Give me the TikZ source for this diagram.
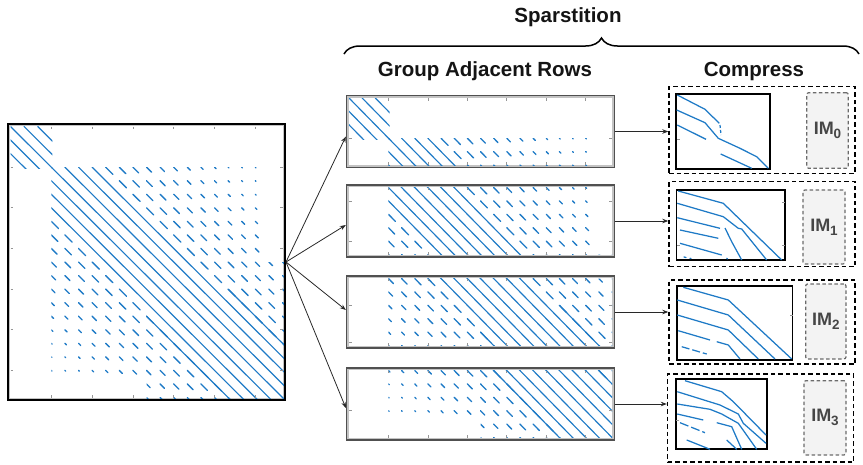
\documentclass[tikz,border=0pt]{standalone}
\usepackage{fontspec}
\setmainfont{Liberation Sans}
\usetikzlibrary{arrows.meta,decorations.pathreplacing,calc}

\definecolor{spyblue}{RGB}{30,122,198}
\definecolor{axisgray}{RGB}{195,195,195}
\definecolor{tickgray}{RGB}{150,150,150}
\definecolor{stripedge}{RGB}{80,80,80}
\definecolor{imgray}{RGB}{70,70,70}
\definecolor{imfill}{RGB}{243,243,243}
\definecolor{arrowgray}{RGB}{40,40,40}

\tikzset{
  spyline/.style={draw=spyblue, line width=1.15pt, line cap=round},
  spydot/.style={draw=spyblue, line width=1.3pt, line cap=round},
  thumbline/.style={draw=spyblue, line width=1.25pt, line join=round},
  tickmark/.style={draw=tickgray, line width=0.7pt},
  axisbox/.style={draw=axisgray, line width=1.5pt},
  bigframe/.style={draw=black, line width=2pt, inner sep=0pt},
  stripframe/.style={draw=stripedge, line width=1.3pt, inner sep=0pt,
    minimum width=268pt, minimum height=72pt},
  cbox/.style={draw=black, line width=1.4pt, dash pattern=on 4.5pt off 3pt,
    inner sep=0pt, minimum width=186pt},
  thumb/.style={draw=black, line width=1.6pt, inner sep=0pt},
  imbox/.style={draw=imgray!80, fill=imfill, line width=1.2pt, rounded corners=2pt,
    dash pattern=on 3.5pt off 2.5pt, inner sep=0pt, text=imgray,
    font=\fontsize{18}{20}\selectfont\bfseries},
  title/.style={font=\fontsize{20.5}{24}\selectfont\bfseries, text=black!92, inner sep=0pt},
  conn/.style={draw=arrowgray, line width=0.8pt, -{Stealth[length=6pt,width=4.5pt]}}
}

% subscripted memory label
\newcommand{\imlabel}[1]{IM\raisebox{-4pt}{\fontsize{13.5}{14}\selectfont #1}}

% sparsity pattern of the matrix, in a 100 x 100 grid (column, row)
\newcommand{\spypattern}{%
  \begin{scope}
    \clip (0,0) rectangle (15.4,15.4);
    \foreach \spo in {-10,-5,0,5,10}{\draw[spyline] (\spo,0) -- ++(20,20);}
  \end{scope}
  \begin{scope}
    \clip (15,15) -- (91.5,15) -- (91.5,50) -- (100.5,50) -- (100.5,100.5)
      -- (50,100.5) -- (50,92) -- (15,92) -- cycle;
    \foreach \spo in {-15,-10,-5,0,5,10,15}{\draw[spyline] (\spo+15,15) -- ++(90,90);}
    \foreach \spo in {20,25,...,85}{%
      \pgfmathsetmacro{\seglen}{max(0.25,3.7-0.052*\spo)}%
      \foreach \spr in {15,20,...,100}{%
        \draw[spydot] (\spr+\spo,\spr) -- ++(\seglen,\seglen);
        \draw[spydot] (\spr,\spr+\spo) -- ++(\seglen,\seglen);
      }}
    \begin{scope}
      \clip (50,60) rectangle (101,101);
      \foreach \spo in {-20,20}{\draw[spyline] (\spo+60,60) -- ++(45,45);}
    \end{scope}
  \end{scope}}

% one horizontal slice of 25 rows; #1,#2 inner top-left corner, #3 first row, #4 tick rows
\newcommand{\stripplot}[4]{%
  \begin{scope}[shift={(#1,#2)}, x=2.63pt, y=-2.68pt]
    \begin{scope}[shift={(0,-#3)}]
      \clip (0,#3) rectangle (100,#3+25);
      \spypattern
      \foreach \spc in {15,30,...,90}{%
        \draw[tickmark] (\spc,#3) -- ++(0,1.1);
        \draw[tickmark] (\spc,#3+25) -- ++(0,-1.1);}
      \foreach \spr in {#4}{%
        \draw[tickmark] (0,\spr) -- ++(1.1,0);
        \draw[tickmark] (100,\spr) -- ++(-1.1,0);}
    \end{scope}
  \end{scope}}

\begin{document}
\begin{tikzpicture}[x=1pt, y=-1pt]
\useasboundingbox (0,0) rectangle (863,464);

% headings and brace
\node[title] (tspar) at (568,17) {Sparstition};
\coordinate (brL) at (344,54);
\coordinate (brR) at (859,54);
\draw[line width=1.5pt, decorate, decoration={brace, amplitude=16pt}] (brL) -- (brR);
\node[title] (tgroup) at (485,71) {Group Adjacent Rows};
\node[title] (tcomp) at (754,71) {Compress};

% full matrix
\node[bigframe, minimum width=277pt, minimum height=276pt] (big) at (146.5,262) {};
\draw[axisbox] ($(big.north west)+(2.3,2.3)$) rectangle ($(big.south east)+(-2.3,-2.3)$);
\begin{scope}[shift={(10.5,126.5)}, x=2.72pt, y=-2.71pt]
  \spypattern
  \foreach \spc in {15,30,...,90}{%
    \draw[tickmark] (\spc,0) -- ++(0,1.1);
    \draw[tickmark] (\spc,100) -- ++(0,-1.1);
    \draw[tickmark] (0,\spc) -- ++(1.1,0);
    \draw[tickmark] (100,\spc) -- ++(-1.1,0);}
\end{scope}

% row groups
\node[stripframe] (s0) at (480.5,131.5) {};
\node[stripframe] (s1) at (480.5,221) {};
\node[stripframe] (s2) at (480.5,312) {};
\node[stripframe] (s3) at (480.5,404) {};
\foreach \sn in {s0,s1,s2,s3}{%
  \draw[axisbox] ($(\sn.north west)+(2.3,2.3)$) rectangle ($(\sn.south east)+(-2.3,-2.3)$);}
\stripplot{349}{98}{0}{15}
\stripplot{349}{187.5}{25}{30,45}
\stripplot{349}{278.5}{50}{60,74}
\stripplot{349}{370.5}{75}{90}

% compressed groups
\node[cbox, minimum height=86.6pt] (c0) at (762,130) {};
\node[cbox, minimum height=85pt] (c1) at (762,224.2) {};
\node[cbox, minimum height=84pt] (c2) at (762,322) {};
\node[cbox, minimum height=88pt] (c3) at (760.5,418) {};

\node[thumb, minimum width=94pt, minimum height=75pt] (th0) at (723,131.5) {};
\node[thumb, minimum width=108.3pt, minimum height=70pt] (th1) at (730.8,225) {};
\node[thumb, minimum width=115.7pt, minimum height=74pt] (th2) at (734.8,323) {};
\node[thumb, minimum width=91pt, minimum height=70pt] (th3) at (721.2,414) {};

\node[imbox, minimum width=41.6pt, minimum height=75.6pt] (im0) at (827.5,130.5) {\imlabel{0}};
\node[imbox, minimum width=42pt, minimum height=74pt] (im1) at (824,227) {\imlabel{1}};
\node[imbox, minimum width=40.3pt, minimum height=75pt] (im2) at (825.8,321.5) {\imlabel{2}};
\node[imbox, minimum width=42pt, minimum height=74.3pt] (im3) at (825,417.8) {\imlabel{3}};

% compressed diagonals
\begin{scope}
  \clip (th0.north west) rectangle (th0.south east);
  \draw[thumbline] (677.3,95) -- (705,109.3) -- (719.3,123.3);
  \draw[thumbline, dash pattern=on 3pt off 2pt] (720,125) -- (721,135);
  \draw[thumbline] (676.7,110) -- (705,122.7) -- (718.3,138.3) -- (740,148.3) -- (756.7,156.7) -- (768.3,168.3);
  \draw[thumbline] (677.3,125) -- (706,139.3);
  \draw[thumbline] (720.7,154) -- (751.7,168.3);
  \draw[tickmark] (677,139) -- ++(3,0);
\end{scope}
\begin{scope}
  \clip (th1.north west) rectangle (th1.south east);
  \draw[thumbline] (678.3,191) -- (723.3,203.3) -- (781.7,260);
  \draw[thumbline] (677.3,203.3) -- (723.3,216.7) -- (738.3,228.3) -- (741.7,229) -- (766.7,260);
  \draw[thumbline] (677.3,217.7) -- (720,228.3);
  \draw[thumbline] (725,228) -- (731.7,241.7) -- (741.7,260);
  \draw[thumbline] (680,230) -- (718.3,238.3);
  \draw[thumbline] (680,243.3) -- (721.7,255);
  \draw[thumbline, line cap=round] (684,257) -- (686,257.5) (690,258.3) -- (691,258.6) (726.7,258.3) -- (727.5,259);
  \draw[tickmark] (785,202) -- ++(-3,0) (785,245) -- ++(-3,0) (677,245) -- ++(3,0);
\end{scope}
\begin{scope}
  \clip (th2.north west) rectangle (th2.south east);
  \draw[thumbline] (683.3,287.3) -- (728.3,300) -- (791.7,359);
  \draw[thumbline] (677.3,300) -- (728.3,315) -- (775,359);
  \draw[thumbline] (677.3,315) -- (728.3,330) -- (758.3,359);
  \draw[thumbline] (678.3,330.7) -- (710,340);
  \draw[thumbline] (716.7,341.7) -- (728.3,345) -- (740,359);
  \draw[thumbline, dash pattern=on 8pt off 3pt] (681.7,346.7) -- (706.7,354);
  \draw[tickmark] (792.7,315) -- ++(-3,0);
\end{scope}
\begin{scope}
  \clip (th3.north west) rectangle (th3.south east);
  \draw[thumbline] (685,380.7) -- (721.7,391.7) -- (733.3,401.7) -- (766,435);
  \draw[thumbline] (677.3,391.7) -- (720,405) -- (738.3,414) -- (743.3,423.3) -- (766,443.3);
  \draw[thumbline] (677.3,404) -- (710,409.3) -- (721.7,414) -- (738.3,423.3) -- (756.7,449.3);
  \draw[thumbline] (677.3,414) -- (703.3,420);
  \draw[thumbline] (716.7,422.7) -- (731.7,426.7) -- (741.7,449.3);
  \draw[thumbline, dash pattern=on 9pt off 3pt] (680,422.7) -- (705,432.7);
  \draw[thumbline] (686.7,440) -- (710,449.3);
  \draw[thumbline] (726.7,440) -- (736.7,449.3);
  \draw[tickmark] (676,420) -- ++(3,0);
\end{scope}

% connectors
\draw[conn] (big.east) -- ($(s0.west)+(0,5)$);
\draw[conn] (big.east) -- ($(s1.west)+(0,4)$);
\draw[conn] (big.east) -- ($(s2.west)+(0,-2)$);
\draw[conn] (big.east) -- ($(s3.west)+(0,4)$);
\draw[conn] (s0.east) -- (s0.east -| c0.west);
\draw[conn] (s1.east) -- (s1.east -| c1.west);
\draw[conn] (s2.east) -- (s2.east -| c2.west);
\draw[conn] (s3.east) -- (s3.east -| c3.west);
\end{tikzpicture}
\end{document}
